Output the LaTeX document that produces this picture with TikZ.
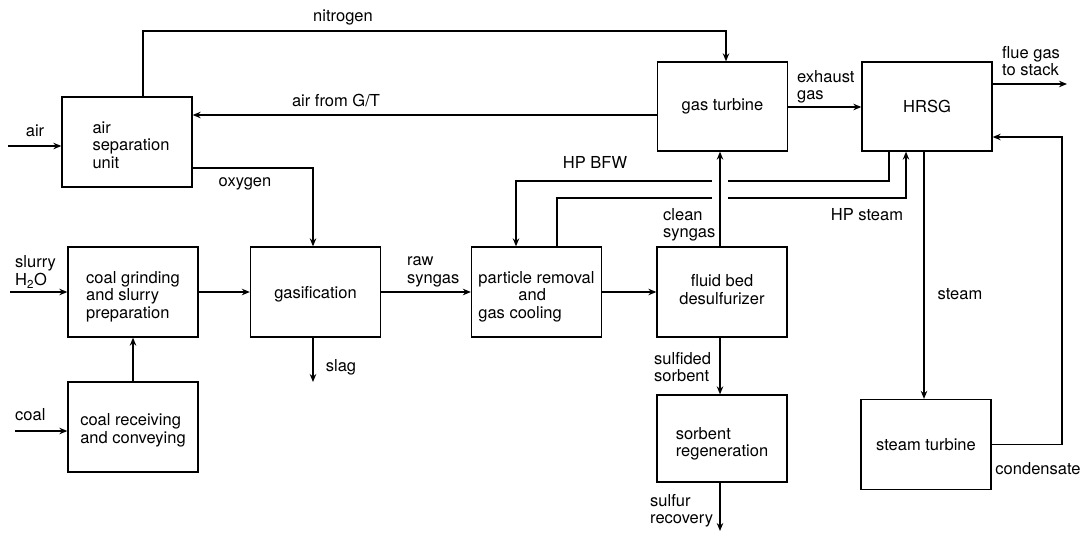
\documentclass[tikz,border=0pt]{standalone}
\usepackage{fontspec}
\setmainfont{TeX Gyre Heros}
\usepackage{tikz}
\usetikzlibrary{arrows.meta, positioning}

\begin{document}
\begin{tikzpicture}[
  x=1pt, y=-1pt,
  box/.style={
    rectangle, draw, line width=1.3pt,
    minimum width=130pt, minimum height=90pt,
    inner sep=0pt, font=\flowfont
  },
  arrow/.style={-{Stealth[length=8pt,width=6.5pt]}, line width=1.3pt},
  stream/.style={font=\flowfont, inner sep=0pt, align=left}
]
\newcommand{\flowfont}{\fontsize{16.5}{17.5}\selectfont}
\newcommand{\boxlines}[2][-5pt]{\raisebox{#1}[\height][\depth]{\begin{tabular}{@{}l@{}}#2\end{tabular}}}
\useasboundingbox (0,0) rectangle (1089,533);

% process units
\node[box] (asu)     at (127,142)   {\hspace*{8pt}\boxlines{air\\separation\\unit}};
\node[box] (grind)   at (133,292)   {\boxlines{coal grinding\\and slurry\\preparation}};
\node[box] (recv)    at (133,427)   {\boxlines[-4pt]{coal receiving\\and conveying}};
\node[box] (gasif)   at (315.5,292) {\raisebox{-2pt}[\height][\depth]{gasification}};
\node[box] (partrem) at (536.5,292) {\boxlines{particle removal\\\hspace*{40pt}and\\gas cooling}};
\node[box] (desulf)  at (722,292)   {\begin{tabular}{@{}c@{}}fluid bed\\desulfurizer\end{tabular}};
\node[box, minimum height=87pt] (regen) at (722,438.5)
  {\boxlines[-6pt]{sorbent\\regeneration}};
\node[box, minimum height=89pt] (gt)   at (722.5,106.5) {gas turbine};
\node[box, minimum height=89pt] (hrsg) at (927,106.5)   {HRSG};
\node[box] (st)      at (926,444.5) {steam turbine};

% free ends and corners
\coordinate (airin)  at (8,146);
\coordinate (h2oin)  at (10,292);
\coordinate (coalin) at (15,431);
\coordinate (n2)     at (143,31);
\coordinate (slagout) at (313,382);
\coordinate (sout)   at (720,531);
\coordinate (bfw)    at (889,181);
\coordinate (hps)    at (557,198);
\coordinate (stack)  at (1067,84);
\coordinate (cond)   at (1062,137);

% main gas train
\foreach \from/\to in {grind/gasif,gasif/partrem,partrem/desulf}
  \draw[arrow] (\from) -- (\to);

\draw[arrow] (airin) -- (airin -| asu.west);
\draw[arrow] (h2oin) -- (grind.west);
\draw[arrow] (coalin) -- (coalin -| recv.west);
\draw[arrow] (recv.north) -- (grind.south);
\draw[arrow] (asu.north -| n2) -- (n2) -| ([xshift=3.5pt]gt.north);
\draw[arrow] ([yshift=-8.5pt]gt.west) -- ([yshift=27pt]asu.east);
\draw[arrow] ([yshift=-26pt]asu.east) -| ([xshift=-2.5pt]gasif.north);
\draw[arrow] (gasif.south -| slagout) -- (slagout);

% steam loops
\draw[arrow] (hrsg.south -| bfw) -- (bfw) -| ([xshift=-20.5pt]partrem.north);
\draw[arrow] (partrem.north -| hps) -- (hps) -| ([xshift=-21pt]hrsg.south);
\draw[white, line width=16pt, shorten <=2pt, shorten >=2pt]
  ([xshift=-2pt]desulf.north) -- ([xshift=-2pt]desulf.north |- gt.south);
\draw[arrow] ([xshift=-2pt]desulf.north) -- ([xshift=-2pt]desulf.north |- gt.south);
\draw[arrow] ([xshift=-2pt]desulf.south) -- ([xshift=-2pt]desulf.south |- regen.north);
\draw[arrow] ([xshift=-2pt]regen.south) -- (sout);
\draw[arrow] ([yshift=-0.5pt]gt.east) -- ([yshift=-0.5pt]hrsg.west);
\draw[arrow] (hrsg.east |- stack) -- (stack);
\draw[arrow] ([xshift=-3pt]hrsg.south) -- ([xshift=-2pt]st.north);
\draw[arrow] (st.east) -| (cond) -- (cond -| hrsg.east);

% stream labels
\node[stream] (lbln2)   at (343,17)  {nitrogen};
\node[stream] (lblgt)   at (336,100) {air from G/T};
\node[stream] (lblair)  at (35,131)  {air};
\node[stream] (lblo2)   at (245,184) {oxygen};
\node[stream, anchor=west] (lblh2o)  at (15,272)  {slurry\\H\textsubscript{2}O};
\node[stream, anchor=west] (lblcoal) at (15,415)  {coal};
\node[stream] (lblslag) at (341,367) {slag};
\node[stream, anchor=west] (lblraw)  at (407,272) {raw\\syngas};
\node[stream] (lblbfw)  at (595,162) {HP BFW};
\node[stream, anchor=west] (lblclean) at (663,225) {clean\\syngas};
\node[stream, anchor=west] (lblexh)  at (797,87)  {exhaust\\gas};
\node[stream, anchor=west] (lblflue) at (1002,61) {flue gas\\to stack};
\node[stream] (lblhps)  at (867,215) {HP steam};
\node[stream] (lblsteam) at (960,294) {steam};
\node[stream] (lblcond) at (1038,469) {condensate};
\node[stream, anchor=west] (lblsulf) at (654,367) {sulfided\\sorbent};
\node[stream, anchor=west] (lblrec)  at (650,511) {sulfur\\recovery};
\end{tikzpicture}
\end{document}
